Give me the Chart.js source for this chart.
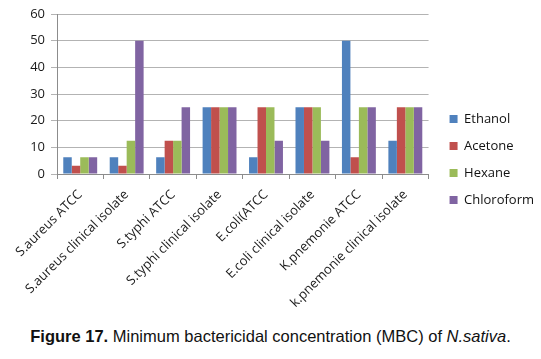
<!DOCTYPE html>
<html>
<head>
<meta charset="utf-8">
<script src="https://cdn.jsdelivr.net/npm/chart.js@4.4.0/dist/chart.umd.min.js"></script>
<style>
  body { margin: 0; background: #fff; width: 541px; height: 359px; overflow: hidden; }
  #wrap { position: relative; width: 541px; height: 312px; }
  #caption {
    position: absolute; left: 0; top: 327px; width: 541px; text-align: center;
    font-family: "Liberation Sans", Arial, sans-serif; font-size: 16.5px; color: #111;
  }
</style>
</head>
<body>
<div id="wrap"><canvas id="chart"></canvas></div>
<div id="caption"><b>Figure 17.</b> Minimum bactericidal concentration (MBC) of <i>N.sativa</i>.</div>
<script>
const categories = [
  "S.aureus ATCC",
  "S.aureus clinical isolate",
  "S.typhi ATCC",
  "S.typhi clinical isolate",
  "E.coli(ATCC",
  "E.coli clinical isolate",
  "K.pnemonie ATCC",
  "k.pnemonie clinical isolate"
];
const ethanol    = [6.25, 6.25, 6.25, 25, 6.25, 25, 50, 12.5];
const acetone    = [3.125, 3.125, 12.5, 25, 25, 25, 6.25, 25];
const hexane     = [6.25, 12.5, 12.5, 25, 25, 25, 25, 25];
const chloroform = [6.25, 50, 25, 25, 12.5, 12.5, 25, 25];
const yTicks = [0, 10, 20, 30, 40, 50, 60];

const font = "'Open Sans', 'Liberation Sans', sans-serif";

// nudge the legend so it sits a little away from the plot, like the Excel original
const legendNudge = {
  id: "legendNudge",
  afterLayout(chart) {
    const lg = chart.legend;
    const dx = chart.chartArea.right + 7 - lg.left;
    lg.left += dx; lg.right += dx;
    lg.top -= 3.5; lg.bottom -= 3.5;
  }
};

const ctx = document.getElementById("chart").getContext("2d");
new Chart(ctx, {
  type: "bar",
  data: {
    labels: categories,
    datasets: [
      { label: "Ethanol", data: ethanol, backgroundColor: "#4F81BD" },
      { label: "Acetone", data: acetone, backgroundColor: "#C0504D" },
      { label: "Hexane", data: hexane, backgroundColor: "#9BBB59" },
      { label: "Chloroform", data: chloroform, backgroundColor: "#8064A2" }
    ]
  },
  options: {
    responsive: true,
    maintainAspectRatio: false,
    animation: false,
    datasets: { bar: { categoryPercentage: 0.73, barPercentage: 1.0 } },
    layout: { padding: { top: 14, right: 4, left: 0, bottom: 0 } },
    scales: {
      x: {
        afterFit: scale => { scale.height = 138; },
        grid: { drawOnChartArea: false, color: "#8c8c8c", tickLength: 5, offset: true },
        border: { color: "#8c8c8c" },
        ticks: {
          minRotation: 45, maxRotation: 45, autoSkip: false,
          padding: 8,
          color: "#1a1a1a",
          font: { family: font, size: 13 }
        }
      },
      y: {
        min: 0, max: 60,
        afterFit: scale => { scale.width = 57; },
        afterBuildTicks: scale => { scale.ticks = yTicks.map(v => ({ value: v })); },
        grid: { color: "#b3b3b3", tickLength: 6 },
        border: { color: "#8c8c8c" },
        ticks: { color: "#1a1a1a", padding: 6, font: { family: font, size: 13 } }
      }
    },
    plugins: {
      legend: {
        position: "right",
        labels: {
          boxWidth: 8, boxHeight: 8, padding: 14,
          color: "#111",
          font: { family: font, size: 13 }
        }
      },
      tooltip: { enabled: false }
    }
  },
  plugins: [legendNudge]
});
</script>
</body>
</html>
